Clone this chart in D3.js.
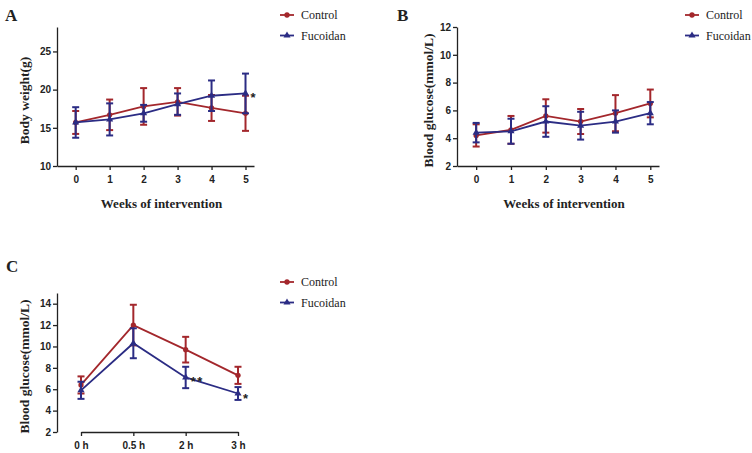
<!DOCTYPE html>
<html>
<head>
<meta charset="utf-8">
<script src="https://cdn.jsdelivr.net/npm/d3@7"></script>
<style>
body { margin: 0; background: #fff; }
.tick text { font-family: "Liberation Sans", Arial, sans-serif; font-weight: bold; font-size: 10px; fill: #222; }
.domain, .tick line { stroke: #222; stroke-width: 1.3px; }
.ttl { font-family: "Liberation Serif", "Times New Roman", serif; font-weight: bold; fill: #222; }
.leg { font-family: "Liberation Serif", "Times New Roman", serif; font-size: 12px; fill: #222; }
</style>
</head>
<body>
<script>
// panel A: body weight
var weeks = [0, 1, 2, 3, 4, 5];
var aControl = [15.7, 16.7, 17.8, 18.4, 17.6, 16.9];
var aControlErr = [1.5, 2.0, 2.4, 1.8, 1.7, 2.3];
var aFucoidan = [15.7, 16.1, 16.9, 18.1, 19.2, 19.5];
var aFucoidanErr = [2.0, 2.1, 1.1, 1.4, 2.0, 2.6];

// panel B: blood glucose by week
var bControl = [4.2, 4.6, 5.6, 5.2, 5.8, 6.5];
var bControlErr = [0.8, 1.0, 1.2, 0.9, 1.3, 1.0];
var bFucoidan = [4.4, 4.5, 5.2, 4.9, 5.2, 5.8];
var bFucoidanErr = [0.7, 0.9, 1.1, 1.0, 0.8, 0.8];

// panel C: glucose tolerance
var hours = ["0 h", "0.5 h", "2 h", "3 h"];
var cControl = [6.4, 12.0, 9.7, 7.3];
var cControlErr = [0.8, 1.9, 1.2, 0.8];
var cFucoidan = [5.9, 10.3, 7.1, 5.6];
var cFucoidanErr = [0.8, 1.4, 1.0, 0.6];

var seriesNames = ["Control", "Fucoidan"];
var red = "#a3272c", blue = "#2b2c84";

var svg = d3.select("body").append("svg")
    .attr("width", 752).attr("height", 453);

function panel(o) {
  var g = svg.append("g");
  var x, xAxis;
  if (o.band) {
    x = d3.scalePoint().domain(o.xs).range([o.x0 + 24, o.x1 - 20]);
    xAxis = d3.axisBottom(x);
  } else {
    x = d3.scaleLinear().domain([-0.55, 5.25]).range([o.x0, o.x1]);
    xAxis = d3.axisBottom(x).tickValues(o.xs).tickFormat(d3.format("d"));
  }
  var y = d3.scaleLinear().domain(o.ydom).range([o.yb, o.yt]);

  g.append("g").attr("transform", "translate(0," + o.yb + ")")
    .call(xAxis.tickSize(4).tickPadding(6).tickSizeOuter(0));
  g.append("g").attr("transform", "translate(" + o.x0 + ",0)")
    .call(d3.axisLeft(y).tickValues(o.yticks).tickFormat(d3.format("d")).tickSize(4).tickPadding(2).tickSizeOuter(0));

  // panel letter
  g.append("text").attr("class", "ttl").attr("x", o.lx).attr("y", o.ly)
    .style("font-size", "17px").text(o.letter);
  if (o.xtitle) {
    g.append("text").attr("class", "ttl").attr("x", (o.x0 + o.x1) / 2 + 6).attr("y", o.yb + 42)
      .attr("text-anchor", "middle").style("font-size", "13px").text(o.xtitle);
  }
  g.append("text").attr("class", "ttl")
    .attr("transform", "translate(" + (o.x0 - o.yto) + "," + ((o.yb + o.yt) / 2 + 4) + ") rotate(-90)")
    .attr("text-anchor", "middle").style("font-size", "13.5px").text(o.ytitle);

  var series = [
    {name: seriesNames[0], v: o.s1, e: o.e1, c: red, sym: d3.symbolCircle},
    {name: seriesNames[1], v: o.s2, e: o.e2, c: blue, sym: d3.symbolTriangle}
  ];
  series.forEach(function(s) {
    var pts = o.xs.map(function(k, i) { return {x: x(k), v: s.v[i], e: s.e[i]}; });
    var eg = g.append("g");
    pts.forEach(function(p) {
      eg.append("line").attr("x1", p.x).attr("x2", p.x)
        .attr("y1", y(p.v - p.e)).attr("y2", y(p.v + p.e))
        .attr("stroke", s.c).attr("stroke-width", 2);
      [p.v - p.e, p.v + p.e].forEach(function(val) {
        eg.append("line").attr("x1", p.x - 3.5).attr("x2", p.x + 3.5)
          .attr("y1", y(val)).attr("y2", y(val))
          .attr("stroke", s.c).attr("stroke-width", 2);
      });
    });
    g.append("path").datum(pts)
      .attr("d", d3.line().x(function(p) { return p.x; }).y(function(p) { return y(p.v); }))
      .attr("fill", "none").attr("stroke", s.c).attr("stroke-width", 1.8);
    g.selectAll(null).data(pts).enter().append("path")
      .attr("transform", function(p) { return "translate(" + p.x + "," + y(p.v) + ")"; })
      .attr("d", d3.symbol().type(s.sym).size(22)).attr("fill", s.c);
  });

  // stars
  (o.stars || []).forEach(function(st) {
    g.append("text").attr("x", x(o.xs[st.i]) + 5).attr("y", y(o.s2[st.i]) + 9)
      .style("font-family", "Liberation Sans, Arial, sans-serif").style("font-size", "13px")
      .style("font-weight", "bold").style("letter-spacing", "1.5px").attr("fill", "#222").text(st.t);
  });

  // legend
  series.forEach(function(s, i) {
    var ly = o.legy + i * 20.5;
    g.append("line").attr("x1", o.legx).attr("x2", o.legx + 14).attr("y1", ly).attr("y2", ly)
      .attr("stroke", s.c).attr("stroke-width", 1.8);
    g.append("path").attr("transform", "translate(" + (o.legx + 7) + "," + ly + ")")
      .attr("d", d3.symbol().type(s.sym).size(22)).attr("fill", s.c);
    g.append("text").attr("class", "leg").attr("x", o.legx + 21).attr("y", ly + 4).text(s.name);
  });
}

panel({letter: "A", lx: 5, ly: 21, x0: 57, x1: 254, yt: 27, yb: 166, yto: 28,
  xs: weeks, ydom: [10, 28.2], yticks: [10, 15, 20, 25],
  s1: aControl, e1: aControlErr, s2: aFucoidan, e2: aFucoidanErr,
  xtitle: "Weeks of intervention", ytitle: "Body weight(g)",
  legx: 280, legy: 15, stars: [{i: 5, t: "*"}]});

panel({letter: "B", lx: 397, ly: 21, x0: 457, x1: 659, yt: 27, yb: 166, yto: 24,
  xs: weeks, ydom: [2, 12], yticks: [2, 4, 6, 8, 10, 12],
  s1: bControl, e1: bControlErr, s2: bFucoidan, e2: bFucoidanErr,
  xtitle: "Weeks of intervention", ytitle: "Blood glucose(mmol/L)",
  legx: 685, legy: 15});

panel({letter: "C", lx: 6, ly: 272, x0: 57, x1: 258, yt: 293, yb: 432, yto: 28, band: true,
  xs: hours, ydom: [2, 15], yticks: [2, 4, 6, 8, 10, 12, 14],
  s1: cControl, e1: cControlErr, s2: cFucoidan, e2: cFucoidanErr,
  ytitle: "Blood glucose(mmol/L)",
  legx: 280, legy: 282, stars: [{i: 2, t: "**"}, {i: 3, t: "*"}]});
</script>
</body>
</html>
